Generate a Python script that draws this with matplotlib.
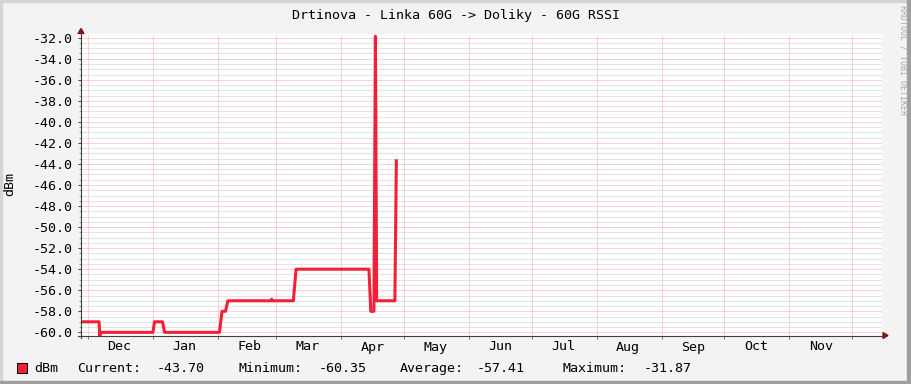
import matplotlib
matplotlib.use('Agg')
import matplotlib.pyplot as plt
import matplotlib.dates as mdates
from matplotlib.ticker import MultipleLocator, FuncFormatter
from matplotlib.patches import Rectangle, Polygon
from matplotlib.lines import Line2D
import numpy as np
import pandas as pd

# --- DATA ---
START = pd.Timestamp('2022-12-01')
day_offsets = [-3.34, 5.3, 5.6, 6.2, 31.0, 31.8, 35.6, 36.6, 62.8, 64.0,
               65.7, 66.8, 87.3, 87.7, 88.1, 98.1, 99.4, 134.2, 135.1,
               136.6, 137.3, 137.9, 146.6, 147.3]
rssi_dbm = [-59.0, -59.0, -60.35, -60.0, -60.0, -59.0, -59.0, -60.0, -60.0, -58.0,
            -58.0, -57.0, -57.0, -56.85, -57.0, -57.0, -54.0, -54.0, -58.0,
            -58.0, -31.87, -57.0, -57.0, -43.7]
legend_labels = ['Current:', 'Minimum:', 'Average:', 'Maximum:']
legend_values = ['-43.70', '-60.35', '-57.41', '-31.87']
title = 'Drtinova - Linka 60G -> Doliky - 60G RSSI'
series_name = 'dBm'

# --- STYLE ---
W, H, DPI = 911, 384, 100
LINE_COLOR = '#F41E36'
MGRID = '#FFA4A4'
GRID = '#C8C8C8'
AXIS = '#404040'
ARROW = '#8B1414'
FS = 9.6

plt.rcParams['font.family'] = ['DejaVu Sans Mono']

def fx(px):
    return px / W

def fy(py):
    return 1 - py / H

times = START + pd.to_timedelta(day_offsets, unit='D')

fig = plt.figure(figsize=(W / DPI, H / DPI), dpi=DPI, facecolor='#F3F3F3')

# rrdtool style shaded frame
fig.patches.append(Rectangle((0, 0), fx(2), 1, transform=fig.transFigure, color='#D4D4D4', zorder=-5))
fig.patches.append(Rectangle((0, fy(2)), 1, 2 / H, transform=fig.transFigure, color='#D4D4D4', zorder=-5))
fig.patches.append(Rectangle((fx(907), 0), 4 / W, 1, transform=fig.transFigure, color='#9E9E9E', zorder=-4))
fig.patches.append(Rectangle((0, 0), 1, 3 / H, transform=fig.transFigure, color='#9E9E9E', zorder=-4))

ax = fig.add_axes([fx(81), fy(335.5), fx(882) - fx(81), (335.5 - 34) / H])
ax.set_facecolor('white')
ax.set_xlim(START - pd.Timedelta(days=3.344), START + pd.Timedelta(days=379.3))
ax.set_ylim(-60.30, -31.65)

ax.plot(times, rssi_dbm, color=LINE_COLOR, lw=2.2, zorder=3)

# y axis
ax.yaxis.set_major_locator(MultipleLocator(2))
ax.yaxis.set_minor_locator(MultipleLocator(0.5))
ax.yaxis.set_major_formatter(FuncFormatter(lambda v, p: f'{v:.1f}'))
ax.tick_params(axis='y', which='major', direction='out', length=2.2, width=0.72,
               color=AXIS, labelsize=FS, pad=4.0)
ax.tick_params(axis='y', which='minor', direction='out', length=1.4, width=0.72, color='#999999')

# x axis: grid at month starts, labels mid-month
ax.xaxis.set_major_locator(mdates.MonthLocator())
ax.xaxis.set_major_formatter(plt.NullFormatter())
ax.xaxis.set_minor_locator(mdates.MonthLocator(bymonthday=16))
ax.xaxis.set_minor_formatter(mdates.DateFormatter('%b'))
ax.tick_params(axis='x', which='major', direction='out', length=2.2, width=0.72, color='#777777')
ax.tick_params(axis='x', which='minor', length=0, labelsize=FS, pad=3.6)

ax.yaxis.grid(True, which='minor', color=GRID, linestyle=(0, (1, 1)), lw=0.72)
ax.yaxis.grid(True, which='major', color=MGRID, linestyle=(0, (1, 1)), lw=0.72)
ax.xaxis.grid(True, which='major', color=MGRID, linestyle=(0, (1, 1)), lw=0.72)
ax.set_axisbelow(True)
for s in ax.spines.values():
    s.set_visible(False)

# axis lines with arrows
fig.add_artist(Line2D([fx(78), fx(883)], [fy(335.5), fy(335.5)], color=AXIS, lw=0.8))
fig.add_artist(Line2D([fx(81), fx(81)], [fy(338), fy(33)], color=AXIS, lw=0.8))
fig.add_artist(Polygon([[fx(888), fy(335.5)], [fx(883), fy(332.5)], [fx(883), fy(338.5)]],
                       closed=True, color=ARROW, transform=fig.transFigure))
fig.add_artist(Polygon([[fx(81), fy(28.5)], [fx(78), fy(33.5)], [fx(84), fy(33.5)]],
                       closed=True, color=ARROW, transform=fig.transFigure))

# texts
fig.text(fx(455.5), fy(19), title, ha='center', va='baseline', size=FS)
fig.text(fx(9.5), fy(184.5), series_name, rotation=90, ha='center', va='center', size=FS)
fig.text(fx(903), fy(5), 'RRDTOOL / TOBI OETIKER', rotation=270, ha='center', va='top',
         size=6, color='#A8A8A8')

# legend line
fig.patches.append(Rectangle((fx(17.3), fy(373.3)), 9.5 / W, 10 / H, transform=fig.transFigure,
                             facecolor=LINE_COLOR, edgecolor='black', lw=0.72))
fig.text(fx(34.7), fy(372.3), series_name, va='baseline', size=FS)
label_x = [76.7, 238.3, 400.0, 562.3]
value_x = [156.7, 319.0, 476.7, 643.3]
for lab, val, lx, vx in zip(legend_labels, legend_values, label_x, value_x):
    fig.text(fx(lx), fy(372.3), lab, va='baseline', size=FS)
    fig.text(fx(vx), fy(372.3), val, va='baseline', size=FS)

fig.savefig('out.png', dpi=DPI, facecolor=fig.get_facecolor())
